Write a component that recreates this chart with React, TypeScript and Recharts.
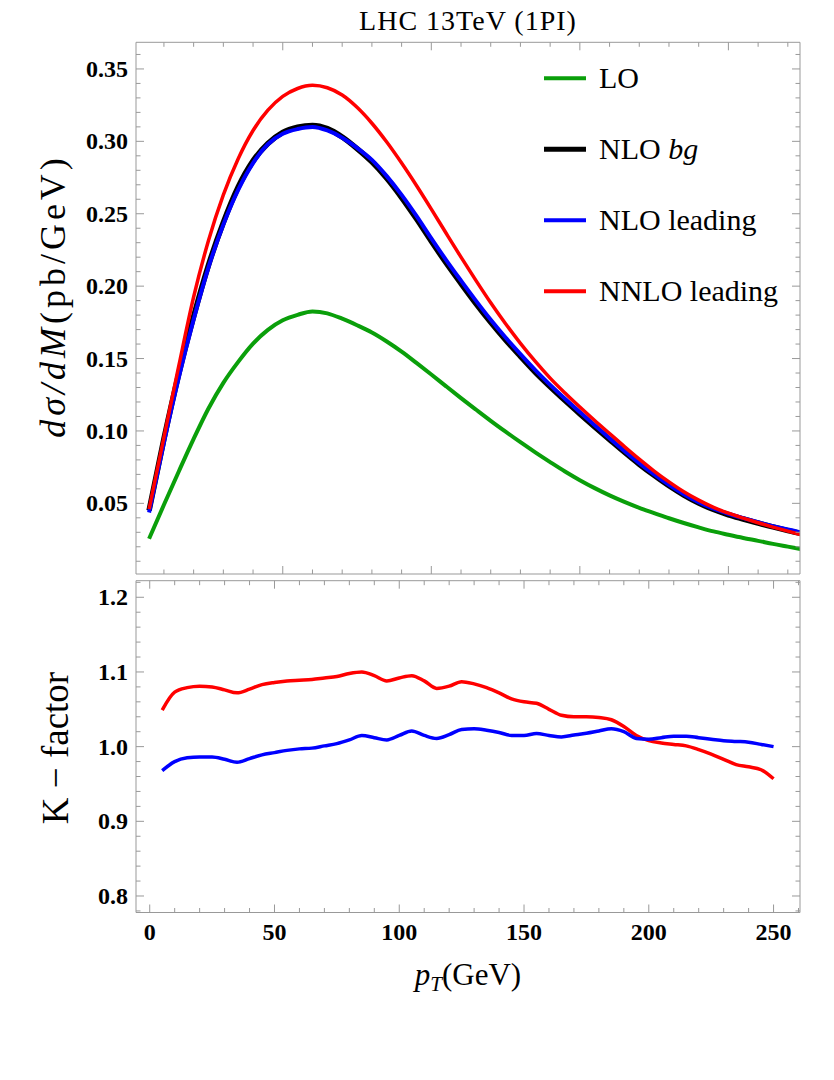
import React from 'react';
import { LineChart, Line, XAxis, YAxis, Legend } from 'recharts';

const GRAY = '#999999';
const FONT = '"Liberation Serif", "Times New Roman", serif';

// upper panel: d sigma / dM against pT
const TOP_PT = [5, 10, 15, 20, 25, 30, 35, 40, 45, 50, 55, 60, 65, 70, 75, 80, 85, 90, 95, 100, 105, 110, 115, 120, 125, 130, 135, 140, 145, 150, 155, 160, 165, 170, 175, 180, 185, 190, 195, 200, 205, 210, 215, 220, 225];
const LO = [0.0255, 0.049, 0.072, 0.0945, 0.1155, 0.1332, 0.1477, 0.1603, 0.1698, 0.1764, 0.1802, 0.1825, 0.1812, 0.1775, 0.173, 0.168, 0.1618, 0.1548, 0.147, 0.139, 0.1308, 0.1227, 0.1148, 0.107, 0.0995, 0.0922, 0.0852, 0.0785, 0.072, 0.066, 0.0605, 0.0555, 0.051, 0.0469, 0.0433, 0.0397, 0.0364, 0.0334, 0.0306, 0.0283, 0.0261, 0.0241, 0.022, 0.0201, 0.0182];
const NLO_BG = [0.045, 0.0945, 0.1395, 0.179, 0.2145, 0.244, 0.2685, 0.2865, 0.2985, 0.3062, 0.3098, 0.311, 0.3088, 0.303, 0.295, 0.2858, 0.2745, 0.2612, 0.2465, 0.231, 0.216, 0.2018, 0.188, 0.175, 0.1628, 0.1515, 0.1405, 0.1305, 0.121, 0.1118, 0.1028, 0.094, 0.0853, 0.077, 0.0693, 0.0621, 0.0557, 0.0502, 0.0457, 0.0421, 0.0392, 0.0364, 0.0337, 0.0312, 0.029];
const NLO_LEADING = [0.0437, 0.092, 0.1368, 0.1769, 0.2129, 0.2425, 0.2665, 0.285, 0.298, 0.3052, 0.3085, 0.3099, 0.3075, 0.3025, 0.2955, 0.2872, 0.276, 0.263, 0.2485, 0.233, 0.218, 0.2038, 0.19, 0.1768, 0.1645, 0.153, 0.142, 0.1318, 0.1222, 0.113, 0.104, 0.095, 0.0862, 0.0778, 0.07, 0.0628, 0.0563, 0.0508, 0.0463, 0.0428, 0.0398, 0.037, 0.0343, 0.0319, 0.0297];
const NNLO_LEADING = [0.046, 0.0955, 0.1449, 0.1925, 0.2315, 0.263, 0.288, 0.3075, 0.3215, 0.331, 0.3365, 0.3387, 0.337, 0.332, 0.3235, 0.3125, 0.2995, 0.285, 0.2695, 0.2532, 0.2365, 0.22, 0.204, 0.1885, 0.174, 0.1605, 0.148, 0.1365, 0.1262, 0.1165, 0.1072, 0.0982, 0.0892, 0.0805, 0.0723, 0.0648, 0.058, 0.0522, 0.0472, 0.0432, 0.0398, 0.0366, 0.0336, 0.0308, 0.0281];

// lower panel: K-factor against pT
const K_PT = [5, 10, 15, 20, 25, 30, 35, 40, 45, 50, 55, 60, 65, 70, 75, 80, 85, 90, 95, 100, 105, 110, 115, 120, 125, 130, 135, 140, 145, 150, 155, 160, 165, 170, 175, 180, 185, 190, 195, 200, 205, 210, 215, 220, 225, 230, 235, 240, 245, 250];
const K_NLO = [0.968, 0.98, 0.985, 0.986, 0.986, 0.983, 0.979, 0.984, 0.989, 0.992, 0.995, 0.997, 0.998, 1.001, 1.004, 1.009, 1.015, 1.012, 1.009, 1.015, 1.021, 1.015, 1.011, 1.016, 1.023, 1.024, 1.022, 1.019, 1.015, 1.015, 1.0175, 1.015, 1.013, 1.0155, 1.018, 1.021, 1.024, 1.02, 1.011, 1.01, 1.012, 1.014, 1.014, 1.012, 1.01, 1.008, 1.007, 1.006, 1.003, 1.0];
const K_NNLO = [1.049, 1.073, 1.079, 1.081, 1.08, 1.076, 1.072, 1.077, 1.083, 1.086, 1.088, 1.089, 1.09, 1.092, 1.094, 1.098, 1.1, 1.095, 1.088, 1.092, 1.095, 1.088, 1.078, 1.081, 1.087, 1.084, 1.079, 1.072, 1.064, 1.06, 1.058, 1.05, 1.042, 1.04, 1.04, 1.039, 1.036, 1.027, 1.015, 1.008, 1.005, 1.003, 1.001, 0.996, 0.99, 0.983, 0.976, 0.973, 0.969, 0.957];

// frame ticks
const TOP_X_TICKS = [10, 20, 30, 40, 50, 60, 70, 80, 90, 100, 110, 120, 130, 140, 150, 160, 170, 180, 190, 200, 210, 220];
const TOP_X_MAJOR = [50, 100, 150, 200];
const TOP_Y_TICKS = [0.01, 0.02, 0.03, 0.04, 0.05, 0.06, 0.07, 0.08, 0.09, 0.1, 0.11, 0.12, 0.13, 0.14, 0.15, 0.16, 0.17, 0.18, 0.19, 0.2, 0.21, 0.22, 0.23, 0.24, 0.25, 0.26, 0.27, 0.28, 0.29, 0.3, 0.31, 0.32, 0.33, 0.34, 0.35, 0.36];
const TOP_Y_MAJOR = [0.05, 0.1, 0.15, 0.2, 0.25, 0.3, 0.35];
const BOT_X_TICKS = [0, 10, 20, 30, 40, 50, 60, 70, 80, 90, 100, 110, 120, 130, 140, 150, 160, 170, 180, 190, 200, 210, 220, 230, 240, 250, 260];
const BOT_X_MAJOR = [0, 50, 100, 150, 200, 250];
const BOT_Y_TICKS = [0.78, 0.8, 0.82, 0.84, 0.86, 0.88, 0.9, 0.92, 0.94, 0.96, 0.98, 1.0, 1.02, 1.04, 1.06, 1.08, 1.1, 1.12, 1.14, 1.16, 1.18, 1.2, 1.22];
const BOT_Y_MAJOR = [0.8, 0.9, 1.0, 1.1, 1.2];

const SERIES_NAMES = ['LO', 'NLO bg', 'NLO leading', 'NNLO leading'];
const SERIES_COLORS = ['#0a9f0a', '#000000', '#0000ff', '#ff0000'];
const SERIES_WIDTHS = [4, 5.5, 4, 3.5];

const topRows = TOP_PT.map((pt, i) => ({
  pt,
  lo: LO[i],
  nloBg: NLO_BG[i],
  nloLeading: NLO_LEADING[i],
  nnloLeading: NNLO_LEADING[i],
}));

const kRows = K_PT.map((pt, i) => ({ pt, kNlo: K_NLO[i], kNnlo: K_NNLO[i] }));

type Side = 'left' | 'right' | 'top' | 'bottom';

const isMajor = (v: number, majors: number[]) => majors.some(m => Math.abs(m - v) < 1e-9);

// inward ticks like a Mathematica frame, with labels on the major ones
function frameTick(side: Side, majors: number[], fmt?: (v: number) => string) {
  return (props: any) => {
    const { x, y, payload } = props;
    const v = payload.value;
    const major = isMajor(v, majors);
    const len = major ? 8 : 4.5;
    let x2 = x;
    let y2 = y;
    if (side === 'bottom') y2 = y - len;
    if (side === 'top') y2 = y + len;
    if (side === 'left') x2 = x + len;
    if (side === 'right') x2 = x - len;
    let label = null;
    if (fmt && major) {
      label = side === 'left'
        ? <text x={x - 8} y={y + 8} textAnchor="end" fontFamily={FONT} fontWeight="bold" fontSize={24} fill="#000">{fmt(v)}</text>
        : <text x={x} y={y + 27.5} textAnchor="middle" fontFamily={FONT} fontWeight="bold" fontSize={24} fill="#000">{fmt(v)}</text>;
    }
    return (
      <g>
        <line x1={x} y1={y} x2={x2} y2={y2} stroke={GRAY} strokeWidth={1} />
        {label}
      </g>
    );
  };
}

const renderLegend = (props: any) => {
  const items = (props.payload || []).slice().sort(
    (a: any, b: any) => SERIES_NAMES.indexOf(a.value) - SERIES_NAMES.indexOf(b.value)
  );
  return (
    <svg width={280} height={290} style={{ overflow: 'visible' }}>
      {items.map((it: any, i: number) => {
        const cy = 38.3 + 71 * i;
        const idx = SERIES_NAMES.indexOf(it.value);
        return (
          <g key={it.value}>
            <line x1={14} x2={56} y1={cy} y2={cy} stroke={it.color} strokeWidth={idx === 1 ? 5 : 4} />
            <text x={69} y={cy + 10} fontFamily={FONT} fontSize={30} fill="#000">
              {it.value === 'NLO bg'
                ? <><tspan>NLO </tspan><tspan fontStyle="italic">bg</tspan></>
                : it.value}
            </text>
          </g>
        );
      })}
    </svg>
  );
};

const axisLine = { stroke: GRAY, strokeWidth: 1 };

export default function App() {
  return (
    <div style={{ position: 'absolute', left: 0, top: 0, width: 834, height: 1080, background: '#fff' }}>
      <div style={{ position: 'absolute', left: 0, top: 0 }}>
        <LineChart width={834} height={578} data={topRows} margin={{ top: 41.3, right: 33, bottom: 3, left: 135 }}>
          <XAxis xAxisId="b" dataKey="pt" type="number" domain={[0.6, 224.1]} allowDataOverflow
            ticks={TOP_X_TICKS} interval={0} tickSize={0} tickMargin={0} height={1}
            axisLine={axisLine} tickLine={false} tick={frameTick('bottom', TOP_X_MAJOR)} />
          <XAxis xAxisId="t" orientation="top" dataKey="pt" type="number" domain={[0.6, 224.1]} allowDataOverflow
            ticks={TOP_X_TICKS} interval={0} tickSize={0} tickMargin={0} height={1}
            axisLine={axisLine} tickLine={false} tick={frameTick('top', TOP_X_MAJOR)} />
          <YAxis yAxisId="l" type="number" domain={[0.0012, 0.3684]} allowDataOverflow
            ticks={TOP_Y_TICKS} interval={0} tickSize={0} tickMargin={0} width={1}
            axisLine={axisLine} tickLine={false} tick={frameTick('left', TOP_Y_MAJOR, v => v.toFixed(2))} />
          <YAxis yAxisId="r" orientation="right" type="number" domain={[0.0012, 0.3684]} allowDataOverflow
            ticks={TOP_Y_TICKS} interval={0} tickSize={0} tickMargin={0} width={1}
            axisLine={axisLine} tickLine={false} tick={frameTick('right', TOP_Y_MAJOR)} />
          <Legend layout="vertical" align="center" verticalAlign="middle"
            wrapperStyle={{ left: 530, top: 40, width: 280, height: 290 }} content={renderLegend} />
          <Line xAxisId="b" yAxisId="l" type="monotone" dataKey="lo" name={SERIES_NAMES[0]}
            stroke={SERIES_COLORS[0]} strokeWidth={SERIES_WIDTHS[0]} dot={false} isAnimationActive={false} />
          <Line xAxisId="b" yAxisId="l" type="monotone" dataKey="nloBg" name={SERIES_NAMES[1]}
            stroke={SERIES_COLORS[1]} strokeWidth={SERIES_WIDTHS[1]} dot={false} isAnimationActive={false} />
          <Line xAxisId="b" yAxisId="l" type="monotone" dataKey="nloLeading" name={SERIES_NAMES[2]}
            stroke={SERIES_COLORS[2]} strokeWidth={SERIES_WIDTHS[2]} dot={false} isAnimationActive={false} />
          <Line xAxisId="b" yAxisId="l" type="monotone" dataKey="nnloLeading" name={SERIES_NAMES[3]}
            stroke={SERIES_COLORS[3]} strokeWidth={SERIES_WIDTHS[3]} dot={false} isAnimationActive={false} />
        </LineChart>
      </div>

      <div style={{ position: 'absolute', left: 0, top: 578 }}>
        <LineChart width={834} height={400} data={kRows} margin={{ top: 1.7, right: 33, bottom: 64.5, left: 135 }}>
          <XAxis xAxisId="b" dataKey="pt" type="number" domain={[-5.5, 260.6]} allowDataOverflow
            ticks={BOT_X_TICKS} interval={0} tickSize={0} tickMargin={0} height={1}
            axisLine={axisLine} tickLine={false} tick={frameTick('bottom', BOT_X_MAJOR, v => String(v))} />
          <XAxis xAxisId="t" orientation="top" dataKey="pt" type="number" domain={[-5.5, 260.6]} allowDataOverflow
            ticks={BOT_X_TICKS} interval={0} tickSize={0} tickMargin={0} height={1}
            axisLine={axisLine} tickLine={false} tick={frameTick('top', BOT_X_MAJOR)} />
          <YAxis yAxisId="l" type="number" domain={[0.7779, 1.2222]} allowDataOverflow
            ticks={BOT_Y_TICKS} interval={0} tickSize={0} tickMargin={0} width={1}
            axisLine={axisLine} tickLine={false} tick={frameTick('left', BOT_Y_MAJOR, v => v.toFixed(1))} />
          <YAxis yAxisId="r" orientation="right" type="number" domain={[0.7779, 1.2222]} allowDataOverflow
            ticks={BOT_Y_TICKS} interval={0} tickSize={0} tickMargin={0} width={1}
            axisLine={axisLine} tickLine={false} tick={frameTick('right', BOT_Y_MAJOR)} />
          <Line xAxisId="b" yAxisId="l" type="monotone" dataKey="kNnlo" name="K NNLO"
            stroke={SERIES_COLORS[3]} strokeWidth={3.5} dot={false} isAnimationActive={false} />
          <Line xAxisId="b" yAxisId="l" type="monotone" dataKey="kNlo" name="K NLO"
            stroke={SERIES_COLORS[2]} strokeWidth={3.5} dot={false} isAnimationActive={false} />
        </LineChart>
      </div>

      <svg width={834} height={1080} style={{ position: 'absolute', left: 0, top: 0, pointerEvents: 'none' }}>
        <text x={468} y={30} textAnchor="middle" fontFamily={FONT} fontSize={28} letterSpacing={1} fill="#000">
          LHC 13TeV (1PI)
        </text>
        <text transform="translate(65,296) rotate(-90)" textAnchor="middle" fontFamily={FONT} fontSize={36}
          letterSpacing={4} fill="#000">
          <tspan fontStyle="italic">dσ/dM</tspan>
          <tspan>(pb/GeV)</tspan>
        </text>
        <text transform="translate(68,748) rotate(-90)" textAnchor="middle" fontFamily={FONT} fontSize={37} fill="#000">
          K − factor
        </text>
        <text x={468} y={985} textAnchor="middle" fontFamily={FONT} fontSize={31} fill="#000">
          <tspan fontStyle="italic">p</tspan>
          <tspan fontStyle="italic" fontSize={21} dy={6}>T</tspan>
          <tspan dy={-6}>(GeV)</tspan>
        </text>
      </svg>
    </div>
  );
}
